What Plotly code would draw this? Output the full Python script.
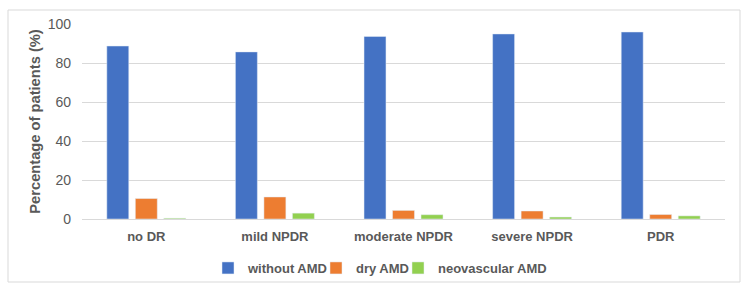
import plotly.graph_objects as go

categories = ["no DR", "mild NPDR", "moderate NPDR", "severe NPDR", "PDR"]
without_amd = [88.7, 85.7, 93.6, 94.9, 95.9]
dry_amd = [10.5, 11.3, 4.4, 4.1, 2.3]
neovascular_amd = [0.4, 3.0, 2.2, 1.0, 1.6]
y_ticks = [0, 20, 40, 60, 80, 100]

L, R, T, B = 82, 25, 24, 72
W, H = 750, 291
pw, ph = W - L - R, H - T - B

def px(x):
    return (x - L) / pw

def py(y):
    return (H - B - y) / ph

FONT = "Liberation Sans, Arial, sans-serif"

fig = go.Figure()
fig.add_bar(x=categories, y=without_amd, name="<b>without AMD</b>", marker_color="#4472C4", legend="legend")
fig.add_bar(x=categories, y=dry_amd, name="<b>dry AMD</b>", marker_color="#ED7D31", legend="legend2")
fig.add_bar(x=categories, y=neovascular_amd, name="<b>neovascular AMD</b>", marker_color="#92D050", legend="legend3")

def leg(xpix):
    return dict(orientation="h", x=px(xpix), xanchor="left", y=py(268), yanchor="middle",
                font=dict(size=13, color="#595959", family=FONT), bgcolor="rgba(0,0,0,0)",
                itemwidth=30)

fig.update_layout(
    width=W, height=H,
    margin=dict(l=L, r=R, t=T, b=B, autoexpand=False),
    paper_bgcolor="white", plot_bgcolor="white",
    barmode="group", bargap=0.335, bargroupgap=0.23,
    font=dict(family=FONT, color="#595959"),
    showlegend=True,
    legend=leg(208), legend2=leg(316), legend3=leg(398),
    shapes=[dict(type="rect", xref="paper", yref="paper",
                 x0=px(8), x1=px(740), y0=py(282), y1=py(10),
                 line=dict(color="#d9d9d9", width=1), fillcolor="rgba(0,0,0,0)", layer="below")],
)
fig.update_xaxes(tickvals=categories, ticktext=["<b>%s</b>" % c for c in categories],
                 tickfont=dict(size=13, color="#595959"), ticks="", showgrid=False,
                 showline=False, ticklabelstandoff=8, automargin=False)
fig.update_yaxes(range=[0, 100], tickvals=y_ticks, tickfont=dict(size=14, color="#595959"),
                 gridcolor="#d9d9d9", zeroline=True, zerolinecolor="#d9d9d9", zerolinewidth=1,
                 title=dict(text="<b>Percentage of patients (%)</b>", font=dict(size=14.7, color="#595959"),
                            standoff=3),
                 ticklabelstandoff=10, automargin=False)
fig.write_html("out.html", config={"displayModeBar": False},
               post_script="document.body.style.margin='0px';")
